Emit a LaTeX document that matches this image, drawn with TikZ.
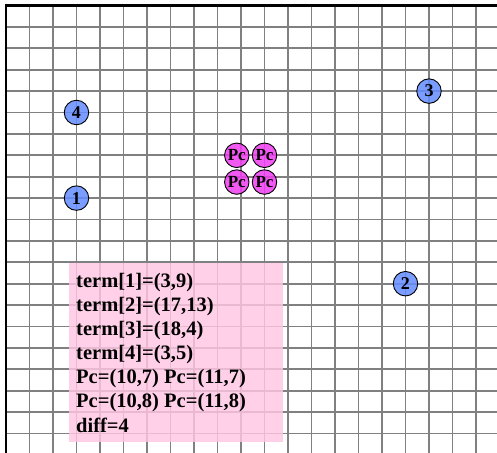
\documentclass[tikz,border=0pt]{standalone}
\usepackage{fontspec}
\setmainfont{Liberation Serif}
\definecolor{termblue}{RGB}{100,140,255}
\definecolor{pcmagenta}{RGB}{240,60,240}
\definecolor{infopink}{RGB}{255,198,226}
\begin{document}
\begin{tikzpicture}[x=23.5pt, y=-21.4pt,
    gridline/.style={color=black!50, line width=1.8pt},
    termpt/.style={circle, draw=black, line width=0.9pt, fill=termblue, fill opacity=0.85, text opacity=1,
      minimum size=24.5pt, inner sep=0pt, font=\fontsize{18}{18}\selectfont\bfseries},
    pcpt/.style={termpt, fill=pcmagenta, font=\fontsize{17}{17}\selectfont\bfseries}]
    \useasboundingbox (-0.255,-0.257) rectangle (20.894,20.91);
    % grid
    \foreach \i in {1,...,20} {
        \draw[gridline] (\i,0) -- (\i,20.91);
        \draw[gridline] (0,\i) -- (20.894,\i);
    }
    \fill[color=infopink, opacity=0.82] (2.68,12.02) rectangle (11.77,20.38);
    \draw[line width=2.4pt] (0,20.91) -- (0,0) -- (20.894,0);
    % terminals
    \node[termpt] (t1) at (3,9) {1};
    \node[termpt] (t2) at (17,13) {2};
    \node[termpt] (t3) at (18,4) {3};
    \node[termpt] (t4) at (3,5) {4};
    % Pc points
    \node[pcpt] (pc1) at (9.82,7) {Pc};
    \node[pcpt] (pc2) at (11,7) {Pc};
    \node[pcpt] (pc3) at (9.82,8.25) {Pc};
    \node[pcpt] (pc4) at (11,8.25) {Pc};
    \node[anchor=north west, align=left, inner sep=0pt, font=\fontsize{20.5}{24.1}\selectfont\bfseries] (info) at (2.98,12.5)
        {term[1]=(3,9)\\term[2]=(17,13)\\term[3]=(18,4)\\term[4]=(3,5)\\Pc=(10,7) Pc=(11,7)\\Pc=(10,8) Pc=(11,8)\\diff=4};
\end{tikzpicture}
\end{document}
